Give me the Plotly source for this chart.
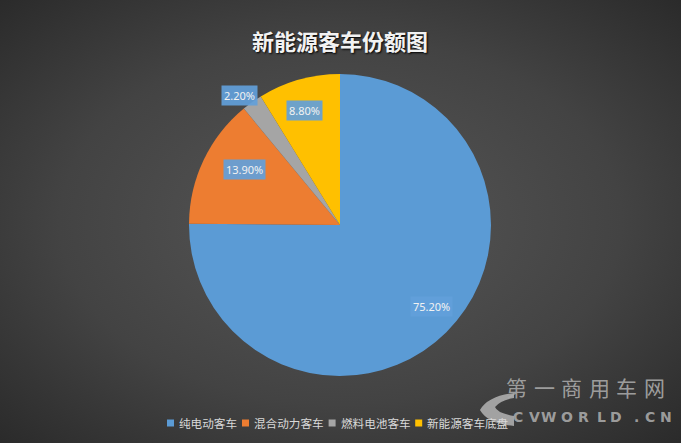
import math
import base64
import plotly.graph_objects as go

# ---- data ----
categories = ["纯电动客车", "混合动力客车", "燃料电池客车", "新能源客车底盘"]
shares = [75.20, 13.90, 2.20, 8.80]
label_texts = ["75.20%", "13.90%", "2.20%", "8.80%"]
colors = ["#5b9bd5", "#ed7d31", "#a5a5a5", "#ffc000"]
title_text = "新能源客车份额图"
watermark_cn = "第一商用车网"
watermark_en = "CVWORLD.CN"

W, H = 681, 443
CX, CY, R = 340.0, 225.0, 151.0  # pie centre / radius in pixels


def px2p(x, y):
    return x / W, 1 - y / H


# background radial gradient as an SVG image
svg = f'''<svg xmlns="http://www.w3.org/2000/svg" width="{W}" height="{H}">
<defs><radialGradient id="g" cx="50%" cy="50%" r="75%">
<stop offset="0%" stop-color="#575757"/>
<stop offset="55%" stop-color="#434343"/>
<stop offset="100%" stop-color="#272727"/>
</radialGradient></defs>
<rect width="{W}" height="{H}" fill="url(#g)"/></svg>'''
bg_src = "data:image/svg+xml;base64," + base64.b64encode(svg.encode()).decode()

fig = go.Figure()
fig.add_trace(go.Pie(
    labels=categories,
    values=shares,
    sort=False,
    direction="clockwise",
    rotation=0,
    marker=dict(colors=colors, line=dict(width=0)),
    textinfo="none",
    hoverinfo="label+percent",
    showlegend=False,
    domain=dict(x=[(CX - R) / W, (CX + R) / W],
                y=[1 - (CY + R) / H, 1 - (CY - R) / H]),
))

annotations = []
shapes = []

# data labels placed from the cumulative shares
total = sum(shares)
cum = 0.0
for v, t in zip(shares, label_texts):
    mid = (cum + v / 2) / total
    cum += v
    theta = 2 * math.pi * mid
    k = 1.14 if v / total < 0.05 else 0.86
    x, y = px2p(CX + k * R * math.sin(theta), CY - k * R * math.cos(theta))
    annotations.append(dict(
        x=x, y=y, xref="paper", yref="paper",
        text=t, showarrow=False,
        font=dict(family="Noto Sans, DejaVu Sans", size=11, color="#f2f2f2"),
        bgcolor="rgba(98,160,218,0.92)", borderpad=2,
    ))

# title
x, y = px2p(340, 22)
annotations.append(dict(
    x=x, y=y, xref="paper", yref="paper", text=f"<b>{title_text}</b>",
    showarrow=False,
    font=dict(family="Noto Sans CJK SC", size=22, color="#f2f2f2",
              shadow="1px 1px 2px #000000"),
))

# legend (compact, Excel style): square + label, laid out by text length
LEG_FS = 11.6
lx, ly = 167.0, 423.0
for name, c in zip(categories, colors):
    x0, y0 = px2p(lx, ly - 3.5)
    x1, y1 = px2p(lx + 7, ly + 3.5)
    shapes.append(dict(type="rect", xref="paper", yref="paper",
                       x0=x0, x1=x1, y0=y1, y1=y0, fillcolor=c,
                       line=dict(width=0)))
    tx, ty = px2p(lx + 10, ly)
    annotations.append(dict(
        x=tx, y=ty, xref="paper", yref="paper", text=name, showarrow=False,
        xanchor="left", yanchor="middle",
        font=dict(family="Noto Sans CJK SC", size=LEG_FS, color="#d9d9d9"),
    ))
    lx += 10 + len(name) * LEG_FS + 7

# watermark
for i, ch in enumerate(watermark_cn):
    x, y = px2p(529 + i * 27.5, 404)
    annotations.append(dict(
        x=x, y=y, xref="paper", yref="paper", text=ch, showarrow=False,
        font=dict(family="Noto Sans CJK SC", size=21, color="rgba(170,170,170,0.9)"),
    ))
for i, ch in enumerate(watermark_en):
    x, y = px2p(525 + i * 16.5, 427)
    annotations.append(dict(
        x=x, y=y, xref="paper", yref="paper", text=f"<b>{ch}</b>", showarrow=False,
        font=dict(family="DejaVu Sans", size=14, color="rgba(170,170,170,0.9)"),
    ))


def P(x, y):
    a, b = px2p(x, y)
    return f"{a:.4f},{b:.4f}"


logo_path = ("M " + P(514, 393) + " Q " + P(488, 396) + " " + P(480, 410) +
             " Q " + P(488, 424) + " " + P(514, 426) + " L " + P(514, 416) +
             " Q " + P(497, 413) + " " + P(495, 407) + " Q " + P(501, 400) + " " + P(514, 398) + " Z")
shapes.append(dict(type="path", path=logo_path, xref="paper", yref="paper",
                   fillcolor="rgba(180,180,180,0.85)", line=dict(width=0)))

fig.update_layout(
    width=W, height=H,
    margin=dict(l=0, r=0, t=0, b=0),
    paper_bgcolor="#3c3c3c",
    images=[dict(source=bg_src, xref="paper", yref="paper", x=0, y=1,
                 sizex=1, sizey=1, xanchor="left", yanchor="top",
                 sizing="stretch", layer="below")],
    shapes=shapes,
    annotations=annotations,
    showlegend=False,
)

fig.write_html("out.html", config={"displayModeBar": False},
               post_script="document.body.style.margin='0';")
